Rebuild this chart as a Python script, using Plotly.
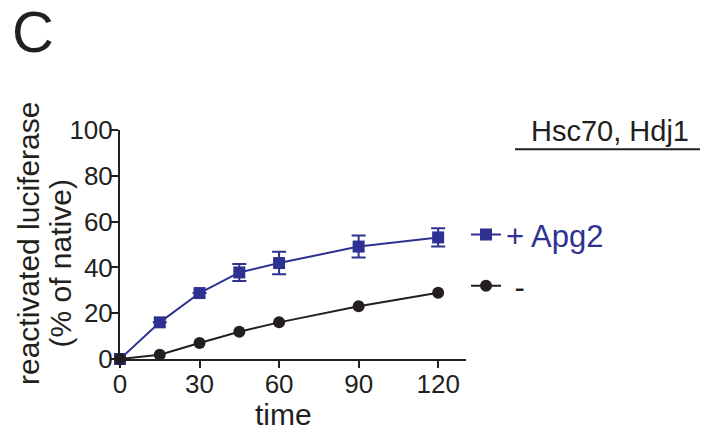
import plotly.graph_objects as go

time = [0, 15, 30, 45, 60, 90, 120]
apg2 = [0, 16.0, 28.8, 37.8, 41.9, 49.1, 53.1]
apg2_err = [0, 0, 0, 3.7, 4.9, 4.8, 4.0]
minus = [0, 1.9, 7.0, 11.9, 16.0, 23.0, 28.9]

x_ticks = [0, 30, 60, 90, 120]
y_ticks = [0, 20, 40, 60, 80, 100]

BLUE = "rgb(46,49,146)"
BLACK = "rgb(35,31,32)"
FONT = "Liberation Sans, Arial, sans-serif"

fig = go.Figure()
fig.add_trace(go.Scatter(
    x=time, y=apg2, mode="lines+markers",
    name='<span style="color:rgb(46,49,146)">+ Apg2</span>',
    line=dict(color=BLUE, width=2),
    marker=dict(symbol="square", size=12, color=BLUE),
    error_y=dict(type="data", array=apg2_err, visible=True, color=BLUE, thickness=2, width=7),
    cliponaxis=False, legendgroup="a",
))
fig.add_trace(go.Scatter(
    x=time, y=minus, mode="lines+markers",
    name='&nbsp;-',
    line=dict(color=BLACK, width=2),
    marker=dict(symbol="circle", size=12, color=BLACK),
    cliponaxis=False, legendgroup="b",
))

fig.update_layout(
    width=718, height=432,
    margin=dict(l=120, r=252, t=130, b=73),
    paper_bgcolor="white", plot_bgcolor="white",
    font=dict(family=FONT, size=26, color=BLACK),
    showlegend=True,
    legend=dict(x=1.0, xanchor="left", y=0.66, yanchor="top",
                font=dict(size=31, color=BLACK), tracegroupgap=8,
                bgcolor="rgba(0,0,0,0)", itemwidth=30),
    xaxis=dict(range=[0, 130.5], tickvals=x_ticks, showline=True, linewidth=2,
               linecolor=BLACK, ticks="outside", ticklen=7, tickwidth=2,
               tickcolor=BLACK, showgrid=False, zeroline=False,
               layer="below traces", tickfont=dict(size=26),
               ticklabelstandoff=-6),
    yaxis=dict(range=[0, 100], tickvals=y_ticks, showline=True, linewidth=2,
               linecolor=BLACK, ticks="outside", ticklen=7, tickwidth=2,
               tickcolor=BLACK, showgrid=False, zeroline=False,
               layer="below traces", tickfont=dict(size=26),
               ticklabelstandoff=-7),
)

def px(xp):
    return (xp - 120) / 346.0

def py(yp):
    return (359 - yp) / 229.0

annotations = [
    dict(text="C", x=px(10), y=py(31), xanchor="left", yanchor="middle",
         font=dict(size=58, color=BLACK)),
    dict(text="reactivated luciferase", x=px(28), y=py(244), xanchor="center",
         yanchor="middle", textangle=-90, font=dict(size=30, color=BLACK)),
    dict(text="(% of native)", x=px(59.5), y=py(264), xanchor="center",
         yanchor="middle", textangle=-90, font=dict(size=30, color=BLACK)),
    dict(text="time", x=px(283), y=py(414), xanchor="center", yanchor="middle",
         font=dict(size=30, color=BLACK)),
    dict(text="Hsc70, Hdj1", x=px(610), y=py(131), xanchor="center",
         yanchor="middle", font=dict(size=29, color=BLACK)),
]
for a in annotations:
    a.update(xref="paper", yref="paper", showarrow=False)
fig.update_layout(annotations=annotations)

fig.add_shape(type="line", xref="paper", yref="paper",
              x0=px(515), x1=px(700), y0=py(149.3), y1=py(149.3),
              line=dict(color=BLACK, width=2))

fig.write_html("out.html")
